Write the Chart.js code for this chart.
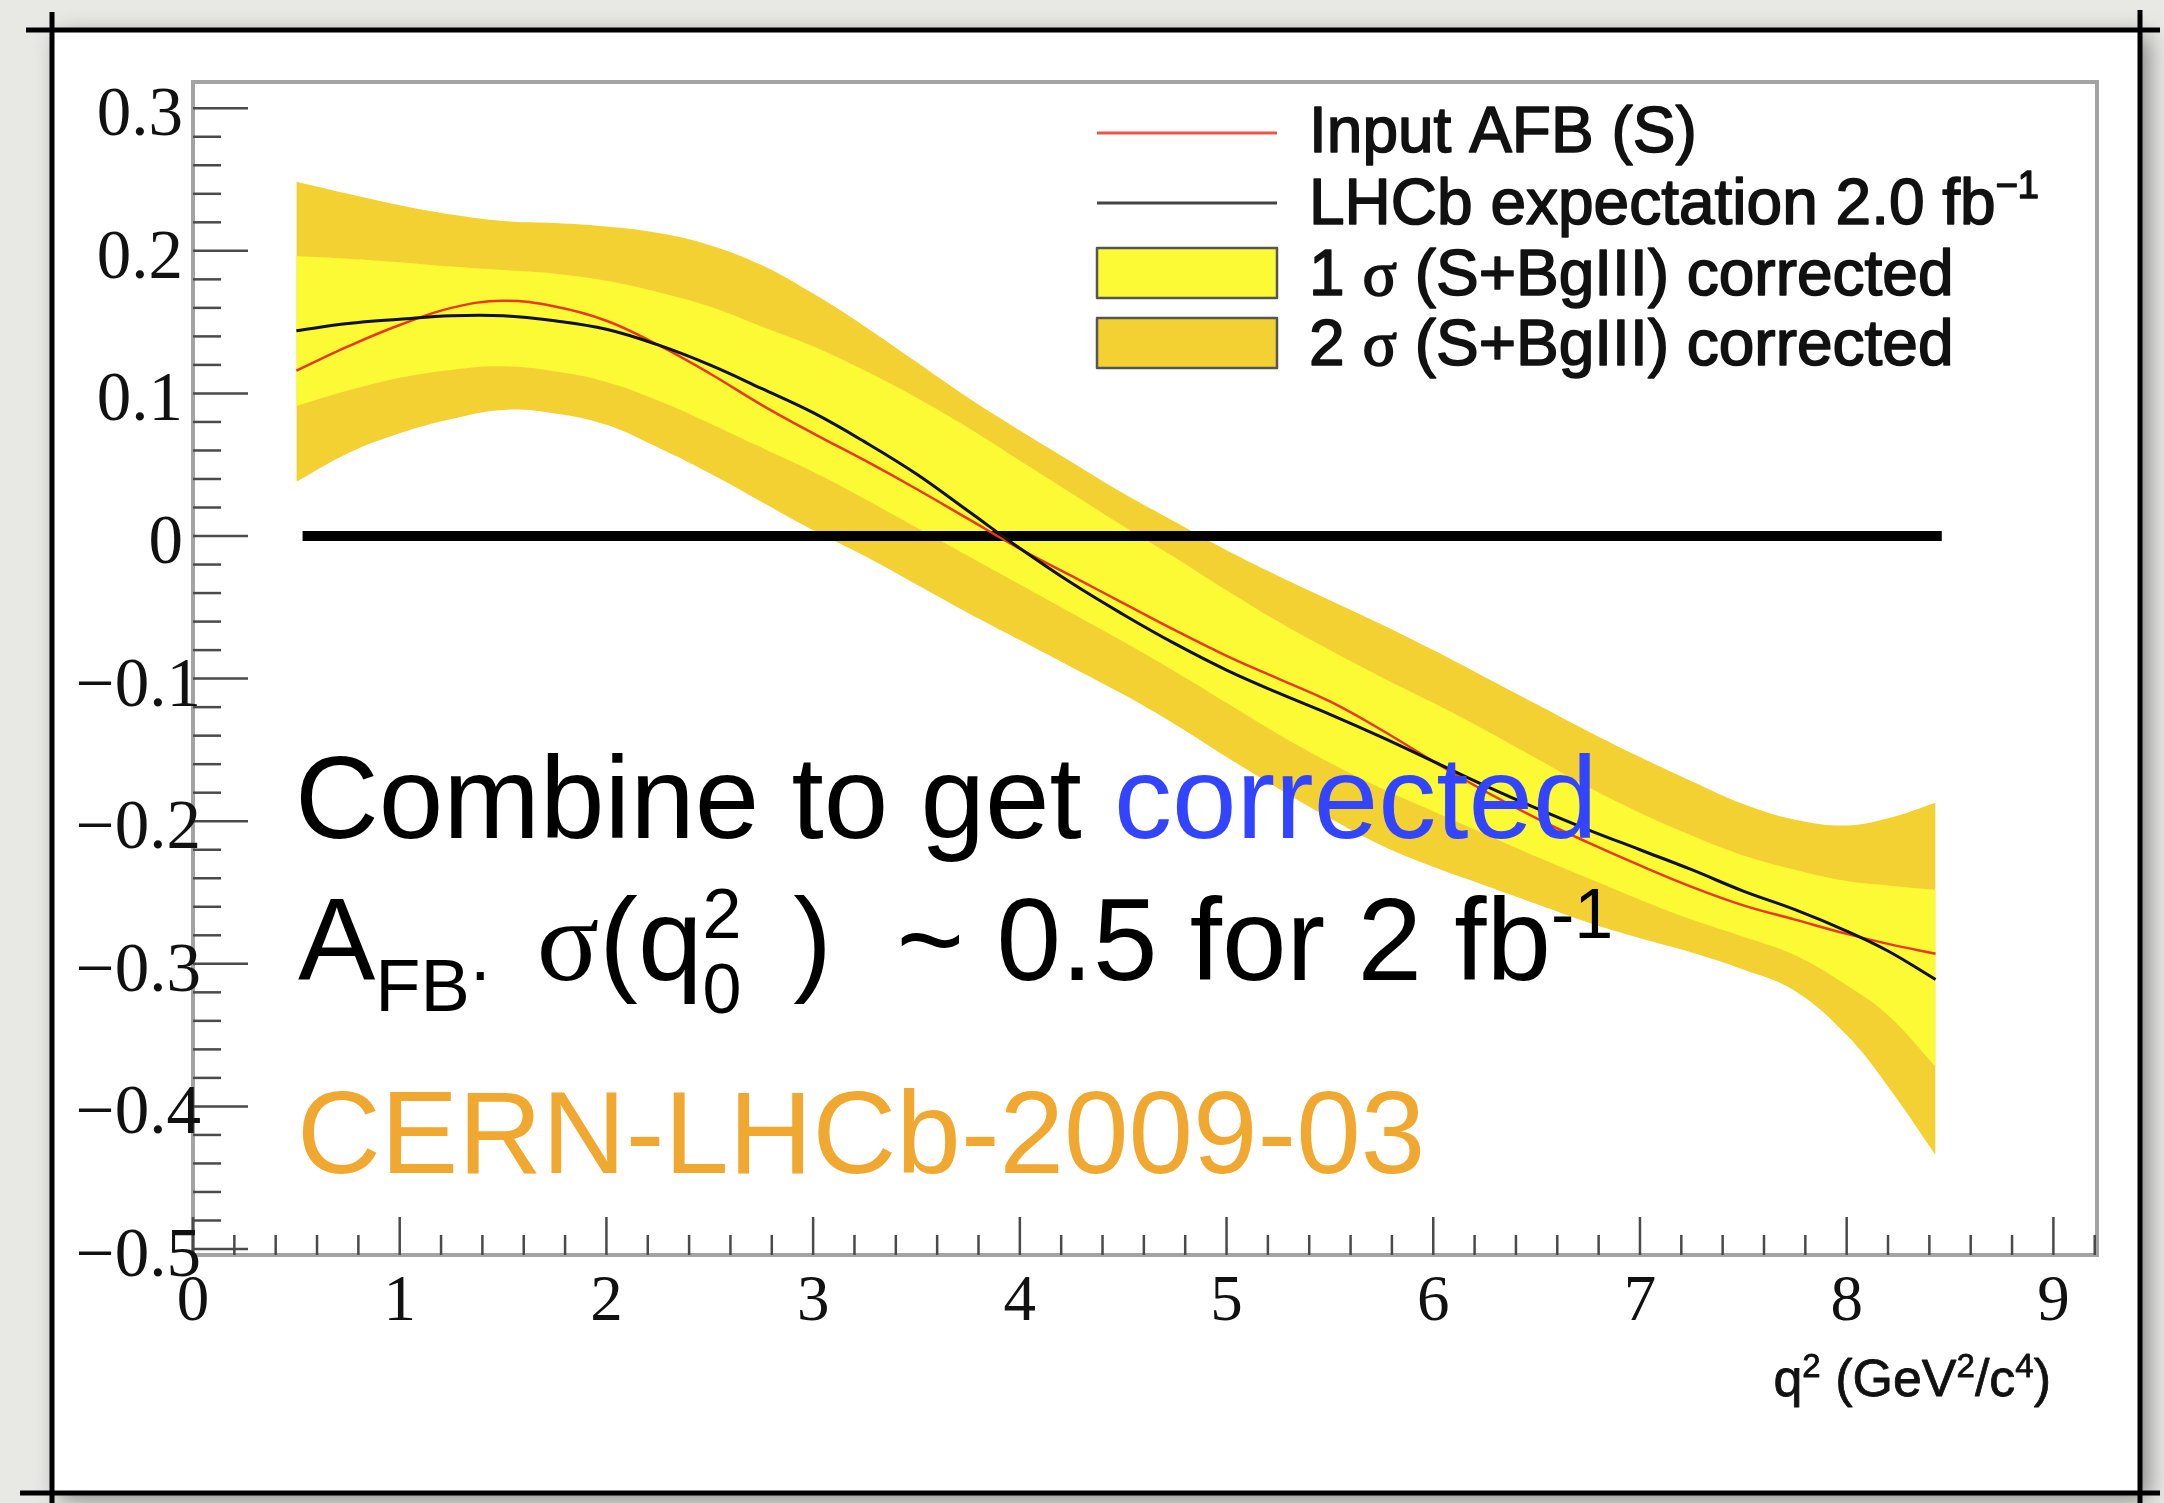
<!DOCTYPE html>
<html><head><meta charset="utf-8">
<script src="https://cdn.jsdelivr.net/npm/chart.js@4.4.0/dist/chart.umd.min.js"></script>
<style>html,body{margin:0;padding:0;background:#e8e8e5;overflow:hidden}canvas{display:block}</style>
</head><body>
<canvas id="c" width="2164" height="1503"></canvas>
<script>
// ---- data ----
const q2 = [0.5,0.75,1.0,1.25,1.5,1.75,2.0,2.25,2.5,2.75,3.0,3.25,3.5,3.75,4.0,4.25,4.5,4.75,5.0,5.25,5.5,5.75,6.0,6.25,6.5,6.75,7.0,7.25,7.5,7.75,8.0,8.2,8.43];
const afbInput = [0.116,0.133,0.148,0.160,0.165,0.161,0.151,0.134,0.114,0.092,0.072,0.053,0.033,0.012,-0.009,-0.028,-0.047,-0.066,-0.084,-0.100,-0.116,-0.136,-0.158,-0.179,-0.198,-0.215,-0.231,-0.246,-0.259,-0.269,-0.279,-0.286,-0.293];
const afbLHCb = [0.144,0.149,0.152,0.1545,0.1545,0.151,0.145,0.134,0.120,0.1035,0.0865,0.066,0.0435,0.0175,-0.0086,-0.033,-0.055,-0.0755,-0.094,-0.110,-0.125,-0.141,-0.158,-0.175,-0.191,-0.206,-0.220,-0.234,-0.249,-0.262,-0.277,-0.291,-0.311];
const band1Up = [0.1964,0.1945,0.192,0.189,0.1865,0.184,0.179,0.171,0.161,0.147,0.133,0.116,0.097,0.076,0.053,0.030,0.007,-0.015,-0.038,-0.060,-0.080,-0.099,-0.117,-0.136,-0.156,-0.176,-0.194,-0.210,-0.224,-0.234,-0.242,-0.245,-0.248];
const band1Lo = [0.0912,0.102,0.111,0.1165,0.119,0.1155,0.108,0.095,0.079,0.062,0.045,0.026,0.006,-0.014,-0.034,-0.054,-0.074,-0.095,-0.117,-0.139,-0.159,-0.177,-0.193,-0.209,-0.225,-0.240,-0.255,-0.269,-0.281,-0.294,-0.315,-0.336,-0.372];
const band2Up = [0.2485,0.240,0.232,0.2255,0.221,0.2195,0.217,0.2125,0.204,0.190,0.170,0.147,0.122,0.097,0.074,0.052,0.030,0.010,-0.010,-0.028,-0.045,-0.062,-0.080,-0.099,-0.118,-0.137,-0.155,-0.172,-0.188,-0.199,-0.203,-0.198,-0.187];
const band2Lo = [0.038,0.058,0.072,0.082,0.0884,0.086,0.078,0.062,0.044,0.024,0.004,-0.014,-0.034,-0.054,-0.073,-0.092,-0.111,-0.132,-0.155,-0.177,-0.198,-0.217,-0.232,-0.245,-0.258,-0.271,-0.282,-0.292,-0.304,-0.319,-0.350,-0.386,-0.434];
const zeroLineQ2 = [0.53, 8.46];
const zeroLineY = [0, 0];

const xMajorTicks = [0,1,2,3,4,5,6,7,8,9];
const xTickLabels = ['0','1','2','3','4','5','6','7','8','9'];
const yMajorTicks = [0.3,0.2,0.1,0,-0.1,-0.2,-0.3,-0.4,-0.5];
const yTickLabels = ['0.3','0.2','0.1','0','\u22120.1','\u22120.2','\u22120.3','\u22120.4','\u22120.5'];
const xRange = [0, 9.211];
const yRange = [-0.5042, 0.3184];

const legendLabels = ['Input AFB (S)', 'LHCb expectation 2.0 fb', '1 \u03C3 (S+BgIII) corrected', '2 \u03C3 (S+BgIII) corrected'];

const SANS = '"Liberation Sans", Arial, Helvetica, sans-serif';
const SERIF = '"Liberation Serif", "Times New Roman", serif';
const COL_2S = '#F3D132';
const COL_1S = '#FCF935';
const COL_RED = '#E63A1E';
const COL_BLK = '#111111';

const pts = (xs, ys) => xs.map((x, i) => ({x: x, y: ys[i]}));
const noLine = 'rgba(0,0,0,0)';

function drawRuns(c, x, y, runs, strokeW) {
  let cx = x;
  runs.forEach(r => {
    c.font = r.font;
    c.fillStyle = r.color || '#000';
    c.textAlign = 'left';
    c.textBaseline = 'alphabetic';
    const px = cx + (r.dx || 0), py = y + (r.dy || 0);
    c.fillText(r.t, px, py);
    if (strokeW) { c.strokeStyle = r.color || '#000'; c.lineWidth = strokeW; c.lineJoin = 'round'; c.strokeText(r.t, px, py); }
    if (!r.noAdvance) cx += c.measureText(r.t).width + (r.dx || 0);
  });
  return cx;
}
function seg(c, x1, y1, x2, y2) { c.beginPath(); c.moveTo(x1, y1); c.lineTo(x2, y2); c.stroke(); }

const rootPlugin = {
  id: 'rootStyle',
  beforeDraw(chart) {
    const c = chart.ctx;
    c.save();
    c.fillStyle = '#e8e8e5';
    c.fillRect(0, 0, chart.width, chart.height);
    c.shadowColor = 'rgba(0,0,0,0.45)';
    c.shadowBlur = 22; c.shadowOffsetX = 8; c.shadowOffsetY = 6;
    c.fillStyle = '#ffffff';
    c.fillRect(52, 30, 2088, 1463);
    c.restore();
  },
  afterDraw(chart) {
    const c = chart.ctx;
    const xs = chart.scales.x, ys = chart.scales.y;
    const A = chart.chartArea;
    c.save();
    // frame
    c.strokeStyle = '#a3a3a3'; c.lineWidth = 4;
    c.strokeRect(A.left, A.top, A.right - A.left, A.bottom - A.top);
    // y ticks (inward)
    c.strokeStyle = '#4a4a4a'; c.lineWidth = 2.5;
    yMajorTicks.forEach((v, i) => {
      const p = ys.getPixelForValue(v);
      seg(c, A.left, p, A.left + 55, p);
      if (i < yMajorTicks.length - 1) {
        const nx = yMajorTicks[i + 1];
        for (let k = 1; k < 5; k++) {
          const pm = ys.getPixelForValue(v + (nx - v) * k / 5);
          seg(c, A.left, pm, A.left + 28, pm);
        }
      }
    });
    // x ticks (inward)
    xMajorTicks.forEach((v, i) => {
      const p = xs.getPixelForValue(v);
      seg(c, p, A.bottom, p, A.bottom - 38);
      const nx = i < xMajorTicks.length - 1 ? xMajorTicks[i + 1] : v + 1;
      for (let k = 1; k < 5; k++) {
        const mv = v + (nx - v) * k / 5;
        if (mv > xs.max + 1e-9) break;
        const pm = xs.getPixelForValue(mv);
        seg(c, pm, A.bottom, pm, A.bottom - 20);
      }
    });
    // y labels
    c.fillStyle = '#111'; c.font = '69px ' + SERIF; c.textBaseline = 'alphabetic'; c.textAlign = 'right';
    yMajorTicks.forEach((v, i) => {
      const p = ys.getPixelForValue(v);
      c.fillText(yTickLabels[i], v < 0 ? 201 : 183, p + 27);
    });
    // x labels
    c.textAlign = 'center'; c.font = '65px ' + SERIF;
    xMajorTicks.forEach((v, i) => {
      c.fillText(xTickLabels[i], xs.getPixelForValue(v), 1320);
    });
    // x axis title
    const tRuns = [
      {t: 'q', font: '52px ' + SANS, color: '#111'},
      {t: '2', font: '33px ' + SANS, color: '#111', dy: -19},
      {t: ' (GeV', font: '52px ' + SANS, color: '#111'},
      {t: '2', font: '33px ' + SANS, color: '#111', dy: -19},
      {t: '/c', font: '52px ' + SANS, color: '#111'},
      {t: '4', font: '33px ' + SANS, color: '#111', dy: -19},
      {t: ')', font: '52px ' + SANS, color: '#111'}
    ];
    let w = 0;
    tRuns.forEach(r => { c.font = r.font; w += c.measureText(r.t).width; });
    drawRuns(c, 2051 - w, 1396, tRuns, 0.8);

    // legend
    c.lineWidth = 3;
    c.strokeStyle = '#EE5544'; seg(c, 1097, 133, 1277, 133);
    c.strokeStyle = '#444'; seg(c, 1097, 203, 1277, 203);
    c.fillStyle = COL_1S; c.fillRect(1097, 248, 180, 50);
    c.fillStyle = COL_2S; c.fillRect(1097, 318, 180, 50);
    c.strokeStyle = '#555'; c.lineWidth = 2.5;
    c.strokeRect(1097, 248, 180, 50);
    c.strokeRect(1097, 318, 180, 50);
    const LF = '64px ' + SANS;
    const LS = 1.6;
    drawRuns(c, 1309, 152, [{t: legendLabels[0], font: LF, color: '#111'}], LS);
    drawRuns(c, 1309, 224, [{t: legendLabels[1], font: LF, color: '#111'}, {t: '\u22121', font: '38px ' + SANS, color: '#111', dy: -26}], LS);
    drawRuns(c, 1309, 295, [{t: '1 ', font: LF, color: '#111'}, {t: '\u03C3', font: '64px ' + SERIF, color: '#111'}, {t: ' (S+BgIII) corrected', font: LF, color: '#111'}], LS);
    drawRuns(c, 1309, 365, [{t: '2 ', font: LF, color: '#111'}, {t: '\u03C3', font: '64px ' + SERIF, color: '#111'}, {t: ' (S+BgIII) corrected', font: LF, color: '#111'}], LS);

    // big annotation text
    const BF = '116px ' + SANS, SF = '74px ' + SANS, PF = '70px ' + SANS;
    drawRuns(c, 295, 838, [{t: 'Combine to get ', font: BF, color: '#000'}, {t: 'corrected', font: BF, color: '#3344FF'}]);
    drawRuns(c, 298, 980, [
      {t: 'A', font: BF, color: '#000'},
      {t: 'FB', font: SF, color: '#000', dy: 31},
      {t: '.', font: SF, color: '#000'},
      {t: ' ', font: BF, color: '#000', dx: 14},
      {t: '\u03C3', font: '116px ' + SERIF, color: '#000'},
      {t: '(q', font: BF, color: '#000'},
      {t: '2', font: PF, color: '#000', dy: -42, noAdvance: true},
      {t: '0', font: PF, color: '#000', dy: 33},
      {t: ')  ~ 0.5 for 2 fb', font: BF, color: '#000', dx: 52},
      {t: '-1', font: PF, color: '#000', dy: -42}
    ]);
    drawRuns(c, 297, 1173, [{t: 'CERN-LHCb-2009-03', font: BF, color: '#F0A830'}]);

    // outer slide frame
    c.strokeStyle = '#000'; c.lineWidth = 5;
    seg(c, 26, 30, 2160, 30);
    seg(c, 52, 12, 52, 1503);
    seg(c, 2140, 10, 2140, 1503);
    seg(c, 20, 1493, 2160, 1493);
    c.restore();
  }
};

const common = {pointRadius: 0, pointHoverRadius: 0, tension: 0.4};
new Chart(document.getElementById('c'), {
  type: 'line',
  data: {
    datasets: [
      Object.assign({label: '2 sigma up', data: pts(q2, band2Up), fill: '+1', backgroundColor: COL_2S, borderColor: noLine, borderWidth: 1, order: 10}, common),
      Object.assign({label: '2 sigma lo', data: pts(q2, band2Lo), fill: false, borderColor: noLine, borderWidth: 1, order: 9}, common),
      Object.assign({label: '1 sigma up', data: pts(q2, band1Up), fill: '+1', backgroundColor: COL_1S, borderColor: noLine, borderWidth: 1, order: 8}, common),
      Object.assign({label: '1 sigma lo', data: pts(q2, band1Lo), fill: false, borderColor: noLine, borderWidth: 1, order: 7}, common),
      {label: 'zero', data: pts(zeroLineQ2, zeroLineY), borderColor: '#000', borderWidth: 10, pointRadius: 0, fill: false, order: 3, borderCapStyle: 'butt'},
      Object.assign({label: legendLabels[0], data: pts(q2, afbInput), borderColor: COL_RED, borderWidth: 2.5, fill: false, order: 2}, common),
      Object.assign({label: legendLabels[1], data: pts(q2, afbLHCb), borderColor: COL_BLK, borderWidth: 3, fill: false, order: 1}, common)
    ]
  },
  options: {
    responsive: false,
    animation: false,
    devicePixelRatio: 1,
    layout: {padding: {left: 193, top: 82, right: 67, bottom: 248}},
    scales: {
      x: {type: 'linear', min: xRange[0], max: xRange[1], display: false},
      y: {type: 'linear', min: yRange[0], max: yRange[1], display: false}
    },
    plugins: {legend: {display: false}, tooltip: {enabled: false}}
  },
  plugins: [rootPlugin]
});
</script>
</body></html>
